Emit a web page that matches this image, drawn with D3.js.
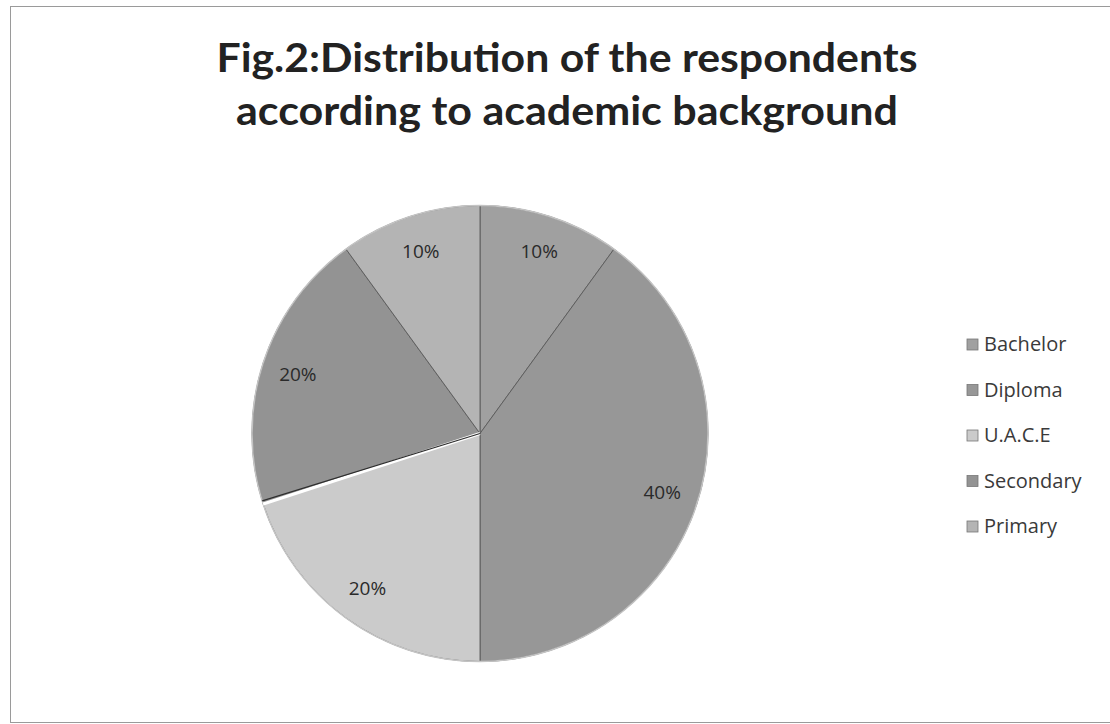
<!DOCTYPE html>
<html>
<head>
<meta charset="utf-8">
<script src="https://cdn.jsdelivr.net/npm/d3@7"></script>
<style>
  html, body { margin: 0; padding: 0; background: #fff; }
  svg { display: block; }
</style>
</head>
<body>
<svg id="chart" width="1110" height="724"></svg>
<script>
// ---- data ----
const categories = ["Bachelor", "Diploma", "U.A.C.E", "Secondary", "Primary"];
const values = [10, 40, 20, 20, 10];
const valueLabels = ["10%", "40%", "20%", "20%", "10%"];
const titleLines = ["Fig.2:Distribution of the respondents", "according to academic background"];
const sliceColors = ["#a0a0a0", "#979797", "#cbcbcb", "#939393", "#b4b4b4"];

const svg = d3.select("#chart");

// frame (scanned border: top, left, bottom)
svg.append("rect")
  .attr("x", 10.5).attr("y", 6.5)
  .attr("width", 1120).attr("height", 716)
  .attr("fill", "none").attr("stroke", "#9a9a9a").attr("stroke-width", 1);

// title
const titleFont = "Lato, 'Open Sans', sans-serif";
const titleLens = [701, 662];
svg.selectAll("text.title").data(titleLines).enter().append("text")
  .attr("class", "title")
  .attr("x", 567).attr("y", (d, i) => 72 + i * 53)
  .attr("text-anchor", "middle")
  .attr("font-family", titleFont)
  .attr("font-weight", "bold")
  .attr("font-size", 41)
  .attr("fill", "#222222")
  .attr("textLength", (d, i) => titleLens[i])
  .attr("lengthAdjust", "spacingAndGlyphs")
  .text(d => d);

// pie
const cx = 480, cy = 433.5, R = 228;
const color = d3.scaleOrdinal().domain(categories).range(sliceColors);
const pie = d3.pie().sort(null).value(d => d.value);
const data = categories.map((c, i) => ({ cat: c, value: values[i], label: valueLabels[i] }));
const arcs = pie(data);
const arc = d3.arc().innerRadius(0).outerRadius(R);
const labelArc = d3.arc().innerRadius(R * 0.84).outerRadius(R * 0.84);

const g = svg.append("g").attr("transform", `translate(${cx},${cy})`);
g.selectAll("path.slice").data(arcs).enter().append("path")
  .attr("class", "slice")
  .attr("d", arc)
  .attr("fill", d => color(d.data.cat))
  .attr("stroke", "#5a5a5a")
  .attr("stroke-width", 0.9);

// outer rim highlight
g.append("circle").attr("r", R).attr("fill", "none")
  .attr("stroke", "#c4c4c4").attr("stroke-width", 1.5);

// white edge between U.A.C.E and Secondary
const sec = arcs[3];
g.append("line")
  .attr("x1", 0).attr("y1", 0)
  .attr("x2", R * Math.sin(sec.startAngle))
  .attr("y2", -R * Math.cos(sec.startAngle))
  .attr("stroke", "#ffffff").attr("stroke-width", 3);
g.append("line")
  .attr("x1", 0).attr("y1", 0)
  .attr("x2", (R) * Math.sin(sec.startAngle + 0.014))
  .attr("y2", -(R) * Math.cos(sec.startAngle + 0.014))
  .attr("stroke", "#2e2e2e").attr("stroke-width", 1.2);

// value labels
g.selectAll("text.val").data(arcs).enter().append("text")
  .attr("class", "val")
  .attr("transform", d => `translate(${labelArc.centroid(d)})`)
  .attr("text-anchor", "middle")
  .attr("dy", "0.35em")
  .attr("font-family", "'Open Sans', sans-serif")
  .attr("font-size", 19)
  .attr("fill", "#2a2a2a")
  .text(d => d.data.label);

// legend
const legend = svg.append("g").attr("transform", "translate(967,0)");
const rows = legend.selectAll("g.row").data(categories).enter().append("g")
  .attr("class", "row")
  .attr("transform", (d, i) => `translate(0,${351 + i * 45.5})`);
rows.append("rect")
  .attr("x", 0).attr("y", -12).attr("width", 11).attr("height", 11)
  .attr("fill", d => color(d))
  .attr("stroke", "#777").attr("stroke-width", 0.8);
rows.append("text")
  .attr("x", 17).attr("y", 0)
  .attr("font-family", "'Open Sans', sans-serif")
  .attr("font-size", 20)
  .attr("fill", "#3a3a3a")
  .text(d => d);
</script>
</body>
</html>
